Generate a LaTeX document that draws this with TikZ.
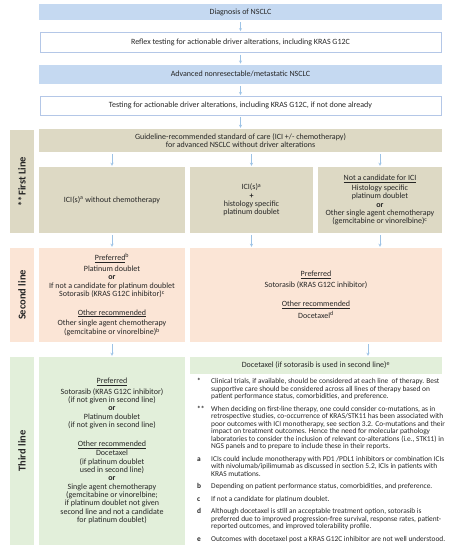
\documentclass[tikz,border=0pt]{standalone}
\usepackage{fontspec}
\setmainfont{Carlito}
\usetikzlibrary{positioning,arrows}

\definecolor{stepblue}{RGB}{197,217,241}
\definecolor{stepline}{RGB}{180,199,231}
\definecolor{firsttan}{RGB}{221,217,196}
\definecolor{secondpeach}{RGB}{251,229,214}
\definecolor{thirdgreen}{RGB}{226,239,218}
\definecolor{flowarrow}{RGB}{157,195,230}

\begin{document}
\begin{tikzpicture}[x=1pt,y=-1pt,->,>=stealth,shorten >=1pt,shorten <=2pt,thin,draw=flowarrow,node distance=12pt,
    box/.style={inner sep=1pt,align=center,text=black!85,font=\fontsize{8}{8.3}\selectfont},
    blue box/.style={box,fill=stepblue,minimum width=403pt},
    white box/.style={box,draw=stepline,fill=white,minimum width=401pt},
    line label/.style={box,rotate=90,minimum height=24pt,font=\fontsize{10.5}{12}\selectfont\bfseries}]
    \useasboundingbox (0,0) rectangle (452,550);

    % diagnosis and testing
    \node[blue box,minimum height=16pt] (diag) at (240.5,12) {Diagnosis of NSCLC};
    \node[white box,minimum height=20pt,below=of diag] (reflex) {Reflex testing for actionable driver alterations, including KRAS G12C};
    \node[blue box,minimum height=19pt,below=of reflex] (adv) {Advanced nonresectable/metastatic NSCLC};
    \node[white box,minimum height=19pt,below=of adv] (test) {Testing for actionable driver alterations, including KRAS G12C, if not done already};

    % first line
    \node[line label,fill=firsttan,minimum width=103pt] (first) at (22,181.5) {**First Line};
    \node[box,fill=firsttan,minimum width=403pt,minimum height=23pt] (guide) at (240.5,140.5) {Guideline-recommended standard of care (ICI +/- chemotherapy)\\for advanced NSCLC without driver alterations};
    \node[box,fill=firsttan,minimum width=146pt,minimum height=66pt] (iciA) at (112,200) {ICI(s)\textsuperscript{a} without chemotherapy};
    \node[box,fill=firsttan,minimum width=123pt,minimum height=66pt] (iciB) at (251.5,200) {ICI(s)\textsuperscript{a}\\\textbf{+}\\histology specific\\platinum doublet};
    \node[box,fill=firsttan,minimum width=124pt,minimum height=66pt] (iciC) at (380,200) {\underline{Not a candidate for ICI}\\[2pt]Histology specific\\platinum doublet\\\textbf{or}\\Other single agent chemotherapy\\(gemcitabine or vinorelbine)\textsuperscript{c}};

    % second line
    \node[line label,fill=secondpeach,minimum width=94pt] (second) at (22,295) {Second line};
    \node[box,fill=secondpeach,minimum width=146pt,minimum height=94pt] (secA) at (112,295) {\underline{Preferred}\textsuperscript{b}\\[2pt]Platinum doublet\\\textbf{or}\\[1pt]If not a candidate for platinum doublet\\Sotorasib (KRAS G12C inhibitor)\textsuperscript{c}\\[10pt]\underline{Other recommended}\\[2pt]Other single agent chemotherapy\\(gemcitabine or vinorelbine)\textsuperscript{b}};
    \node[box,fill=secondpeach,minimum width=252pt,minimum height=94pt] (secB) at (316,295) {\underline{Preferred}\\[2pt]Sotorasib (KRAS G12C inhibitor)\\[11pt]\underline{Other recommended}\\[2pt]Docetaxel\textsuperscript{d}};

    % third line
    \node[line label,fill=thirdgreen,minimum width=188pt] (third) at (22,451) {Third line};
    \node[box,fill=thirdgreen,minimum width=146pt,minimum height=188pt] (thirdA) at (112,451) {\underline{Preferred}\\[2pt]Sotorasib (KRAS G12C inhibitor)\\(if not given in second line)\\\textbf{or}\\Platinum doublet\\(if not given in second line)\\[11pt]\underline{Other recommended}\\[1pt]Docetaxel\\(if platinum doublet\\used in second line)\\\textbf{or}\\Single agent chemotherapy\\(gemcitabine or vinorelbine;\\if platinum doublet not given\\second line and not a candidate\\for platinum doublet)};
    \node[box,fill=thirdgreen,minimum width=252pt,minimum height=17pt] (doce) at (316,365.5) {Docetaxel (if sotorasib is used in second line)\textsuperscript{e}};

    % footnotes
    \node[anchor=north west,inner sep=0pt,text=black!85,font=\fontsize{7.4}{7.5}\selectfont] (notes) at (197,378) {%
      \begin{tabular}{@{}p{14pt}@{}p{250pt}@{}}
        \textbf{*} & Clinical trials, if available, should be considered at each line \ of therapy. Best\newline supportive care should be considered across all lines of therapy based on\newline patient performance status, comorbidities, and preference.\\[5pt]
        \textbf{**} & When deciding on first-line therapy, one could consider co-mutations, as in\newline retrospective studies, co-occurrence of KRAS/STK11 has been associated with\newline poor outcomes with ICI monotherapy, see section 3.2. Co-mutations and their\newline impact on treatment outcomes. Hence the need for molecular pathology\newline laboratories to consider the inclusion of relevant co-alterations (i.e., STK11) in\newline NGS panels and to prepare to include these in their reports.\\[5pt]
        \textbf{a} & ICIs could include monotherapy with PD1 /PDL1 inhibitors or combination ICIs\newline with nivolumab/ipilimumab as discussed in section 5.2, ICIs in patients with\newline KRAS mutations.\\[5pt]
        \textbf{b} & Depending on patient performance status, comorbidities, and preference.\\[5pt]
        \textbf{c} & If not a candidate for platinum doublet.\\[5pt]
        \textbf{d} & Although docetaxel is still an acceptable treatment option, sotorasib is\newline preferred due to improved progression-free survival, response rates, patient-\newline reported outcomes, and improved tolerability profile.\\[5pt]
        \textbf{e} & Outcomes with docetaxel post a KRAS G12C inhibitor are not well understood.
      \end{tabular}};

    % flow arrows
    \path
        (diag) edge (reflex)
        (reflex) edge (adv)
        (adv) edge (test)
        (test) edge (guide)
        (guide.south -| iciA) edge (iciA)
        (guide.south -| iciB) edge (iciB)
        (guide.south -| iciC) edge (iciC)
        (iciA) edge (secA)
        (iciB.south) edge (iciB.south |- secB.north)
        (iciC.south) edge (iciC.south |- secB.north)
        (secA) edge (thirdA)
        ([xshift=52pt]secB.south) edge ([xshift=52pt]doce.north)
        ;
\end{tikzpicture}
\end{document}
